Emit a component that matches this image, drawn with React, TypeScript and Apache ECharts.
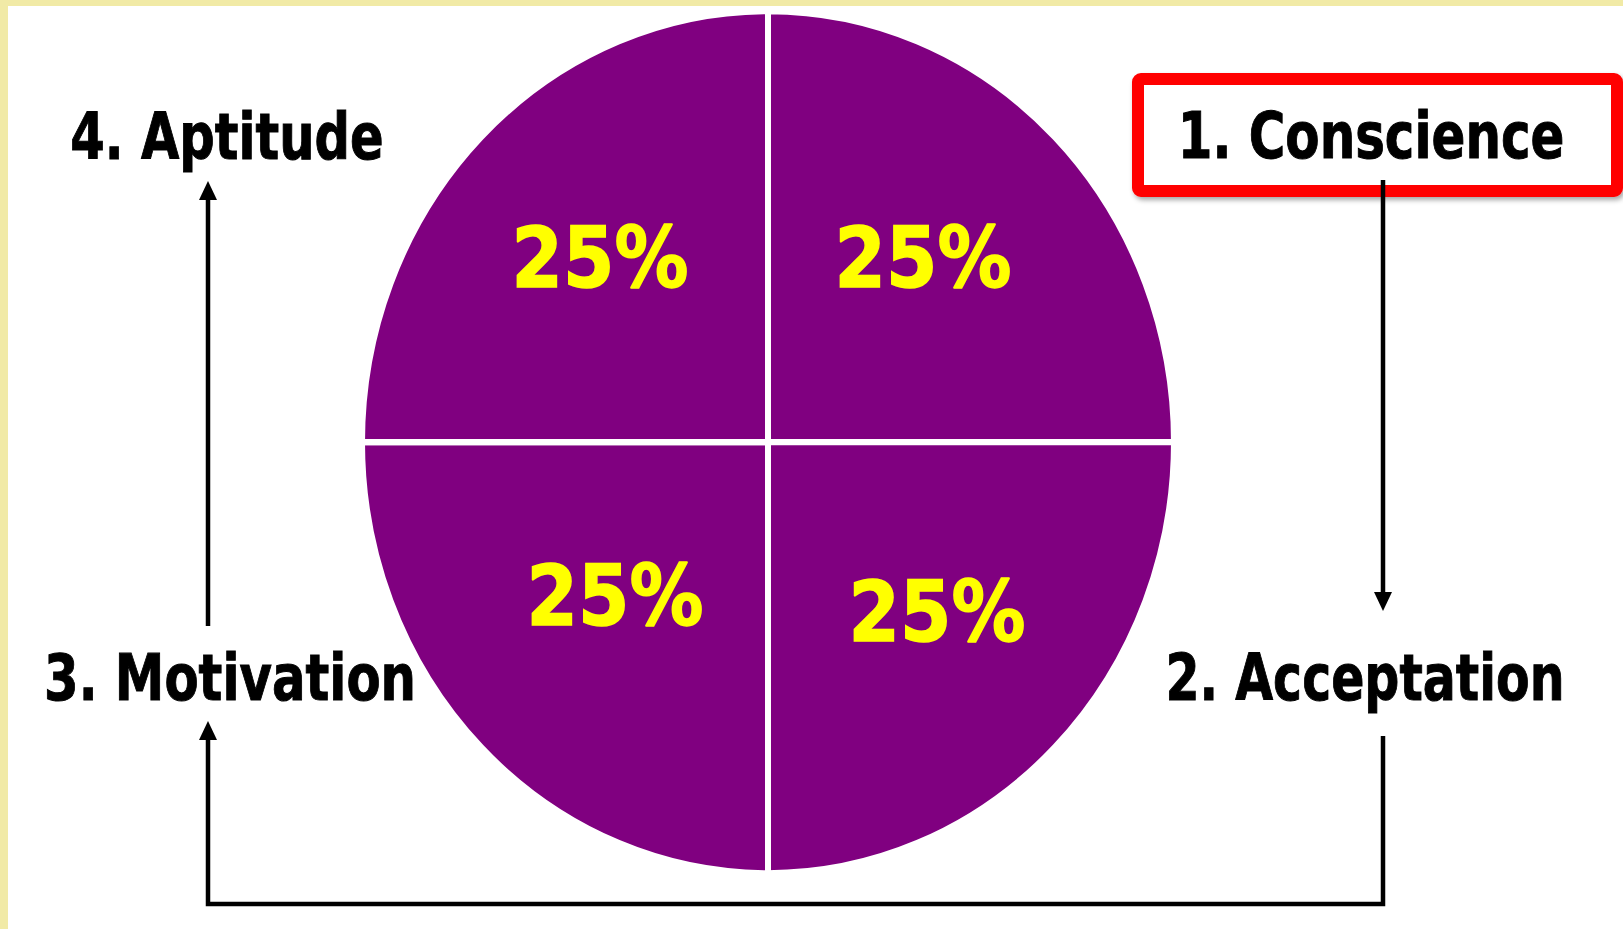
import React, { useEffect, useRef } from "react";
import * as echarts from "echarts";

// ---- data ----
const SEGMENTS = ["Conscience", "Acceptation", "Motivation", "Aptitude"];
const SHARE_VALUES = [25, 25, 25, 25];
const STEP_LABELS = ["1. Conscience", "2. Acceptation", "3. Motivation", "4. Aptitude"];

// ---- layout (not data) ----
const W = 1623;
const H = 929;
const CX = 768;
const CY = 442;
const RX = 406; // drawn radius (stroke eats 3px)
const SY = 431 / 406;
const PURPLE = "#800080";
const YELLOW = "#FFFF00";
// offsets of the percentage labels from the centre, per slice (clockwise from top)
const PCT_OFFSETS = [
  [155, -184],
  [169, 170],
  [-153, 154],
  [-168, -184],
];
// step label anchor (centre x, cap-middle y), same order as STEP_LABELS
const STEP_POS = [
  [1371, 136],
  [1365, 678],
  [230, 678],
  [227, 137],
];
const STEP_SCALE = [0.78, 0.765, 0.778, 0.775];

export default function App() {
  const ref = useRef<HTMLDivElement>(null);

  useEffect(() => {
    if (!ref.current) return;
    const chart = echarts.init(ref.current, undefined, { renderer: "svg" });
    const total = SHARE_VALUES.reduce((a, b) => a + b, 0);
    const cum: number[] = [];
    SHARE_VALUES.reduce((acc, v, i) => {
      cum[i] = acc;
      return acc + v;
    }, 0);

    const lineStyle = { stroke: "#000", lineWidth: 4.5 };
    const arrowHead = (tx: number, ty: number, dir: number) => ({
      type: "polygon",
      z: 10,
      shape: {
        points: [
          [tx, ty],
          [tx - 9, ty - dir * 19],
          [tx + 9, ty - dir * 19],
        ],
      },
      style: { fill: "#000" },
    });

    const labelFont = 'bold 64px "DejaVu Sans"';

    chart.setOption({
      animation: false,
      backgroundColor: "transparent",
      series: [
        {
          type: "custom",
          coordinateSystem: "none",
          silent: true,
          z: 2,
          data: SHARE_VALUES.map((v, i) => ({ value: v, name: SEGMENTS[i] })),
          renderItem: (params: any, api: any) => {
            const i = params.dataIndex;
            const v = api.value(0);
            const start = (cum[i] / total) * Math.PI * 2 - Math.PI / 2;
            const end = start + (v / total) * Math.PI * 2;
            const off = PCT_OFFSETS[i];
            return {
              type: "group",
              children: [
                {
                  type: "sector",
                  shape: { cx: CX, cy: CY, r0: 0, r: RX, startAngle: start, endAngle: end, clockwise: true },
                  originX: CX,
                  originY: CY,
                  scaleY: SY,
                  style: { fill: PURPLE, stroke: "#ffffff", lineWidth: 6 },
                },
                {
                  type: "text",
                  x: CX + off[0],
                  y: CY + off[1],
                  scaleX: 0.89,
                  style: {
                    text: `${v}%`,
                    fill: YELLOW,
                    stroke: YELLOW,
                    lineWidth: 1.5,
                    font: 'bold 83px "DejaVu Sans"',
                    align: "center",
                    verticalAlign: "middle",
                    textAlign: "center",
                    textVerticalAlign: "middle",
                  },
                },
              ],
            };
          },
        },
      ],
      graphic: [
        // red highlight box
        {
          type: "rect",
          z: 5,
          shape: { x: 1138, y: 79, width: 479, height: 112, r: 3 },
          style: {
            fill: "#ffffff",
            stroke: "#FF0000",
            lineWidth: 12,
            shadowBlur: 5,
            shadowOffsetX: 2,
            shadowOffsetY: 3,
            shadowColor: "rgba(0,0,0,0.35)",
          },
        },
        // step labels
        ...STEP_LABELS.map((t, i) => ({
          type: "text",
          z: 12,
          x: STEP_POS[i][0],
          y: STEP_POS[i][1],
          scaleX: STEP_SCALE[i],
          style: {
            text: t,
            fill: "#000",
            stroke: "#000",
            lineWidth: 1,
            font: labelFont,
            align: "center",
            verticalAlign: "middle",
            textAlign: "center",
            textVerticalAlign: "middle",
          },
        })),
        // arrow 1 -> 2 (down, right side)
        { type: "line", z: 10, shape: { x1: 1383, y1: 180, x2: 1383, y2: 596 }, style: lineStyle },
        arrowHead(1383, 611, 1),
        // arrow 2 -> 3 (around the bottom)
        {
          type: "polyline",
          z: 10,
          shape: {
            points: [
              [1383, 736],
              [1383, 904],
              [208, 904],
              [208, 736],
            ],
          },
          style: { ...lineStyle, fill: null, lineJoin: "miter" },
        },
        arrowHead(208, 721, -1),
        // arrow 3 -> 4 (up, left side)
        { type: "line", z: 10, shape: { x1: 208, y1: 626, x2: 208, y2: 196 }, style: lineStyle },
        arrowHead(208, 181, -1),
      ],
    });

    return () => chart.dispose();
  }, []);

  return (
    <div style={{ position: "fixed", left: 0, top: 0, width: W, height: H, background: "#F1EAA6", overflow: "hidden" }}>
      <div style={{ position: "absolute", left: 8, top: 6, right: 0, bottom: 0, background: "#ffffff" }} />
      <div ref={ref} style={{ position: "absolute", left: 0, top: 0, width: W, height: H }} />
    </div>
  );
}
